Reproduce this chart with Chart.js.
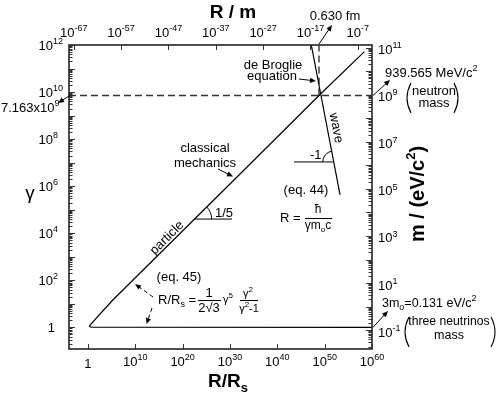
<!DOCTYPE html>
<html><head><meta charset="utf-8">
<script src="https://cdn.jsdelivr.net/npm/chart.js@4.4.1/dist/chart.umd.min.js"></script>
<style>html,body{margin:0;padding:0;background:#fff}#wrap{width:498px;height:396px}</style>
</head><body><div id="wrap"><canvas id="c" width="498" height="396"></canvas></div>
<script>
// ---- data ----
const particleRRs   = [2.5e58, 6.3e48, 1e30, 1e10, 1e5, 2.8, 2.1, 3, 12, 1e60];
const particleGamma = [5.2e11, 7.163e9, 1.24e6, 128, 12.8, 1.25, 1.12, 1.04, 1.01, 1.0];
const waveRRs   = [1.5e47, 1.8e53];
const waveGamma = [1e12, 4.3e5];
const neutronGamma = 7.163e9;   // dashed horizontal
const deBroglieRRs = 6.3e48;    // dashed vertical (0.630 fm)
const slopeParticleRRs = [3.5e22, 2.7e30];
const slopeParticleGamma = [4e4, 4e4];
const slopeWaveRRs = [3.4e43, 8.3e51];
const slopeWaveGamma = [1.07e7, 1.07e7];
const bottomTickExps = [0, 10, 20, 30, 40, 50, 60];
const topTickExps    = [-67, -57, -47, -37, -27, -17, -7];
const leftTickExps   = [0, 2, 4, 6, 8, 10, 12];
const rightTickExps  = [-1, 1, 3, 5, 7, 9, 11];
const rangeRRs   = [1e-4, 1e60];
const rangeGamma = [0.12, 1e12];
const rangeR     = [1e-68, 1e-4];
const massFactor = 0.131;       // m (eV/c^2) = 0.131 * gamma
const rangeMass  = [rangeGamma[0] * massFactor, rangeGamma[1] * massFactor];

const F = "'Liberation Sans', Arial, Helvetica, sans-serif";
function font(sz, bold) { return (bold ? 'bold ' : '') + sz + 'px ' + F; }
function rich(ctx, parts, x, y, align, base, bold) {
  const b = base || 13;
  const items = parts.map(p => {
    const kind = p[1] || 'n';
    const sz = kind === 'n' ? b : (p[2] || Math.round(b * 0.7));
    ctx.font = font(sz, bold);
    return { t: p[0], kind, sz, w: ctx.measureText(p[0]).width };
  });
  const total = items.reduce((a, i) => a + i.w, 0);
  let cx = align === 'center' ? x - total / 2 : align === 'right' ? x - total : x;
  ctx.textAlign = 'left'; ctx.textBaseline = 'alphabetic';
  for (const i of items) {
    ctx.font = font(i.sz, bold);
    const dy = i.kind === 'sup' ? -b * 0.45 : i.kind === 'sub' ? b * 0.25 : 0;
    ctx.fillText(i.t, cx, y + dy);
    cx += i.w;
  }
  return total;
}
function txt(ctx, s, x, y, align, sz, bold) {
  ctx.font = font(sz || 13, bold); ctx.textAlign = align || 'left'; ctx.textBaseline = 'alphabetic';
  ctx.fillText(s, x, y);
}
function arrow(ctx, x1, y1, x2, y2, dashed) {
  ctx.save();
  ctx.strokeStyle = '#000'; ctx.fillStyle = '#000'; ctx.lineWidth = 1;
  const a = Math.atan2(y2 - y1, x2 - x1), L = 6, W = 2.6;
  if (dashed) ctx.setLineDash([4, 3]);
  ctx.beginPath(); ctx.moveTo(x1, y1); ctx.lineTo(x2 - Math.cos(a) * L * 0.7, y2 - Math.sin(a) * L * 0.7); ctx.stroke();
  ctx.setLineDash([]);
  ctx.beginPath();
  ctx.moveTo(x2, y2);
  ctx.lineTo(x2 - L * Math.cos(a) + W * Math.sin(a), y2 - L * Math.sin(a) - W * Math.cos(a));
  ctx.lineTo(x2 - L * Math.cos(a) - W * Math.sin(a), y2 - L * Math.sin(a) + W * Math.cos(a));
  ctx.closePath(); ctx.fill();
  ctx.restore();
}
function paren(ctx, x, y1, y2, dir) {
  ctx.save(); ctx.strokeStyle = '#000'; ctx.lineWidth = 1.1;
  ctx.beginPath();
  ctx.moveTo(x + 4 * dir, y1);
  ctx.quadraticCurveTo(x - 4 * dir, (y1 + y2) / 2, x + 4 * dir, y2);
  ctx.stroke(); ctx.restore();
}
function pow10(ctx, e, x, y, align) {
  if (e === 0) { txt(ctx, '1', x, y, align === 'base-right' ? 'right' : 'center', 13); return; }
  if (align === 'base-right') {
    txt(ctx, '10', x, y, 'right', 13);
    rich(ctx, [[String(e), 'sup', 9]], x, y, 'left', 13);
  } else {
    rich(ctx, [['10'], [String(e), 'sup', 9]], x, y, align, 13);
  }
}

const overlay = {
  id: 'overlay',
  afterDraw(chart) {
    const ctx = chart.ctx;
    const a = chart.chartArea;
    const xs = chart.scales.x, ys = chart.scales.y, xt = chart.scales.xTop, yr = chart.scales.yRight;
    ctx.save();
    ctx.fillStyle = '#000'; ctx.strokeStyle = '#000';

    // frame
    ctx.lineWidth = 1.6; ctx.strokeStyle = '#222';
    ctx.strokeRect(a.left, a.top, a.right - a.left, a.bottom - a.top);

    // ticks
    ctx.lineWidth = 1; ctx.strokeStyle = '#333';
    ctx.beginPath();
    for (let e = -1; e <= 12; e++) for (let k = 1; k <= 9; k++) {
      const v = k * Math.pow(10, e);
      if (v < rangeGamma[0] || v > rangeGamma[1]) continue;
      const p = Math.round(ys.getPixelForValue(v)) + 0.5;
      ctx.moveTo(a.left, p); ctx.lineTo(a.left + (k === 1 ? 6 : 3.5), p);
    }
    for (let e = -2; e <= 11; e++) for (let k = 1; k <= 9; k++) {
      const v = k * Math.pow(10, e);
      if (v < rangeMass[0] || v > rangeMass[1]) continue;
      const p = Math.round(yr.getPixelForValue(v)) + 0.5;
      ctx.moveTo(a.right, p); ctx.lineTo(a.right - (k === 1 ? 6 : 3.5), p);
    }
    for (const e of bottomTickExps) {
      const p = Math.round(xs.getPixelForValue(Math.pow(10, e))) + 0.5;
      ctx.moveTo(p, a.bottom); ctx.lineTo(p, a.bottom - 5);
    }
    for (const e of topTickExps) {
      const p = Math.round(xt.getPixelForValue(Math.pow(10, e))) + 0.5;
      ctx.moveTo(p, a.top); ctx.lineTo(p, a.top + 5);
    }
    ctx.stroke();

    // tick labels
    ctx.fillStyle = '#000';
    for (const e of bottomTickExps) pow10(ctx, e, xs.getPixelForValue(Math.pow(10, e)), e === 0 ? 368 : 366, 'center');
    for (const e of topTickExps) pow10(ctx, e, xt.getPixelForValue(Math.pow(10, e)), 37, 'center');
    for (const e of leftTickExps) pow10(ctx, e, e === 0 ? 55 : 53, ys.getPixelForValue(Math.pow(10, e)) + 5, 'base-right');
    for (const e of rightTickExps) rich(ctx, [['10'], [String(e), 'sup', 9]], a.right + 6, yr.getPixelForValue(Math.pow(10, e)) + 6.5, 'left', 13);

    // axis titles
    txt(ctx, 'R / m', 233, 18, 'center', 19, true);
    rich(ctx, [['R/R'], ['s', 'sub', 13]], 228, 387, 'center', 19, true);
    txt(ctx, 'γ', 30, 199, 'center', 19);
    ctx.save(); ctx.translate(424, 194); ctx.rotate(-Math.PI / 2);
    rich(ctx, [['m / (eV/c'], ['2', 'sup', 13], [')']], 0, 0, 'center', 20, true);
    ctx.restore();

    // key pixel positions from data
    const xDB = xs.getPixelForValue(deBroglieRRs);
    const yN = ys.getPixelForValue(neutronGamma);
    const y1 = ys.getPixelForValue(1);

    // top annotation 0.630 fm
    txt(ctx, '0.630 fm', 335, 20, 'center', 13);
    arrow(ctx, xDB, a.top - 1, 332, 25);
    // left 7.163x10^9
    rich(ctx, [['7.163x10'], ['9', 'sup', 9]], 1, 112, 'left', 13);
    arrow(ctx, a.left + 1, yN, 58, 103);
    // neutron mass
    rich(ctx, [['939.565 MeV/c'], ['2', 'sup', 9]], 385, 77, 'left', 13);
    arrow(ctx, a.right + 1, yN, 390, 80);
    txt(ctx, 'neutron', 434, 95, 'center', 13);
    txt(ctx, 'mass', 434, 107, 'center', 13);
    paren(ctx, 407, 83, 113, 1);
    paren(ctx, 458, 83, 113, -1);
    // neutrinos
    rich(ctx, [['3m'], ['o', 'sub', 9], ['=0.131 eV/c'], ['2', 'sup', 9]], 382, 307, 'left', 12.5);
    arrow(ctx, a.right + 1, y1, 388, 311);
    txt(ctx, 'three neutrinos', 449, 325, 'center', 12.2);
    txt(ctx, 'mass', 449, 338.5, 'center', 12.5);
    paren(ctx, 405, 317, 347, 1);
    paren(ctx, 495, 317, 347, -1);

    // de Broglie
    txt(ctx, 'de Broglie', 273, 69, 'center', 13);
    txt(ctx, 'equation', 272, 80, 'center', 13);
    arrow(ctx, 299, 79, xDB - 3, 81);

    // classical mechanics
    txt(ctx, 'classical', 205, 151.5, 'center', 13);
    txt(ctx, 'mechanics', 205, 166.5, 'center', 13);
    arrow(ctx, 218, 169, 233, 176.5);

    // particle / wave labels
    const wx1 = xs.getPixelForValue(waveRRs[0]), wy1 = ys.getPixelForValue(waveGamma[0]);
    const wx2 = xs.getPixelForValue(waveRRs[1]), wy2 = ys.getPixelForValue(waveGamma[1]);
    const wAng = Math.atan2(wy2 - wy1, wx2 - wx1);
    ctx.save(); ctx.translate(336, 128); ctx.rotate(wAng);
    ctx.font = font(13); ctx.textAlign = 'center'; ctx.textBaseline = 'middle'; ctx.fillText('wave', 0, 0);
    ctx.restore();
    ctx.save(); ctx.translate(167, 238); ctx.rotate(-Math.PI / 4);
    ctx.font = font(13); ctx.textAlign = 'center'; ctx.textBaseline = 'middle'; ctx.fillText('particle', 0, 0);
    ctx.restore();

    // slope markers arcs
    ctx.lineWidth = 1; ctx.strokeStyle = '#000';
    const px0 = xs.getPixelForValue(slopeParticleRRs[0]), py0 = ys.getPixelForValue(slopeParticleGamma[0]);
    ctx.beginPath(); ctx.arc(px0, py0, 17, -Math.PI / 4, 0); ctx.stroke();
    txt(ctx, '1/5', 215, 216.5, 'left', 13);
    const qx = xs.getPixelForValue(slopeWaveRRs[1]), qy = ys.getPixelForValue(slopeWaveGamma[1]);
    ctx.beginPath(); ctx.arc(qx, qy, 11, Math.PI, wAng + Math.PI); ctx.stroke();
    txt(ctx, '-1', 310, 158.5, 'left', 13);

    // eq 44
    txt(ctx, '(eq. 44)', 306, 193.5, 'center', 13);
    txt(ctx, 'R =', 280, 221.5, 'left', 13);
    txt(ctx, 'ħ', 318, 213, 'center', 12);
    ctx.beginPath(); ctx.moveTo(305, 218.5); ctx.lineTo(332, 218.5); ctx.stroke();
    rich(ctx, [['γm'], ['o', 'sub', 8], ['c']], 318, 229, 'center', 12);

    // eq 45
    txt(ctx, '(eq. 45)', 179, 281, 'center', 13);
    rich(ctx, [['R/R'], ['s', 'sub', 9], [' =']], 158, 304, 'left', 13);
    txt(ctx, '1', 209, 297, 'center', 13);
    ctx.beginPath(); ctx.moveTo(198, 300.5); ctx.lineTo(221, 300.5); ctx.stroke();
    txt(ctx, '2√3', 209, 312, 'center', 13);
    rich(ctx, [['γ'], ['5', 'sup', 8]], 223, 303, 'left', 11);
    rich(ctx, [['γ'], ['2', 'sup', 8]], 248, 297, 'center', 11);
    ctx.beginPath(); ctx.moveTo(240, 300.5); ctx.lineTo(258, 300.5); ctx.stroke();
    rich(ctx, [['γ'], ['2', 'sup', 8], ['-1']], 249, 312, 'center', 11);
    arrow(ctx, 153, 297, 135, 284, true);
    arrow(ctx, 152, 308, 146.5, 324, true);

    ctx.restore();
  }
};

const solid = { borderColor: '#000', borderWidth: 1.2, showLine: true, pointRadius: 0, tension: 0, fill: false };
const dashed = { borderColor: '#333', borderWidth: 1.4, borderDash: [7, 4], showLine: true, pointRadius: 0, fill: false };
const logAxis = (min, max, pos, exps) => ({
  type: 'logarithmic', min, max, position: pos, display: false, bounds: 'data',
  afterBuildTicks: s => { s.ticks = exps ? exps.map(e => ({ value: Math.pow(10, e) })) : s.ticks; }
});

new Chart(document.getElementById('c'), {
  type: 'scatter',
  data: {
    datasets: [
      Object.assign({ data: particleRRs.map((x, i) => ({ x, y: particleGamma[i] })) }, solid),
      Object.assign({ data: waveRRs.map((x, i) => ({ x, y: waveGamma[i] })) }, solid),
      Object.assign({ data: rangeRRs.map(x => ({ x, y: neutronGamma })) }, dashed),
      Object.assign({ data: [{ x: deBroglieRRs, y: neutronGamma }, { x: deBroglieRRs, y: rangeGamma[1] }] }, dashed),
      Object.assign({ data: slopeParticleRRs.map((x, i) => ({ x, y: slopeParticleGamma[i] })) }, solid, { borderWidth: 1 }),
      Object.assign({ data: slopeWaveRRs.map((x, i) => ({ x, y: slopeWaveGamma[i] })) }, solid, { borderWidth: 1 })
    ]
  },
  options: {
    responsive: false, animation: false, devicePixelRatio: 1,
    layout: { padding: { left: 69, top: 45, right: 126, bottom: 47 } },
    plugins: { legend: { display: false }, tooltip: { enabled: false }, title: { display: false } },
    scales: {
      x: logAxis(rangeRRs[0], rangeRRs[1], 'bottom', bottomTickExps),
      y: logAxis(rangeGamma[0], rangeGamma[1], 'left', leftTickExps),
      xTop: logAxis(rangeR[0], rangeR[1], 'top', topTickExps),
      yRight: logAxis(rangeMass[0], rangeMass[1], 'right', rightTickExps)
    }
  },
  plugins: [overlay]
});
</script></body></html>
